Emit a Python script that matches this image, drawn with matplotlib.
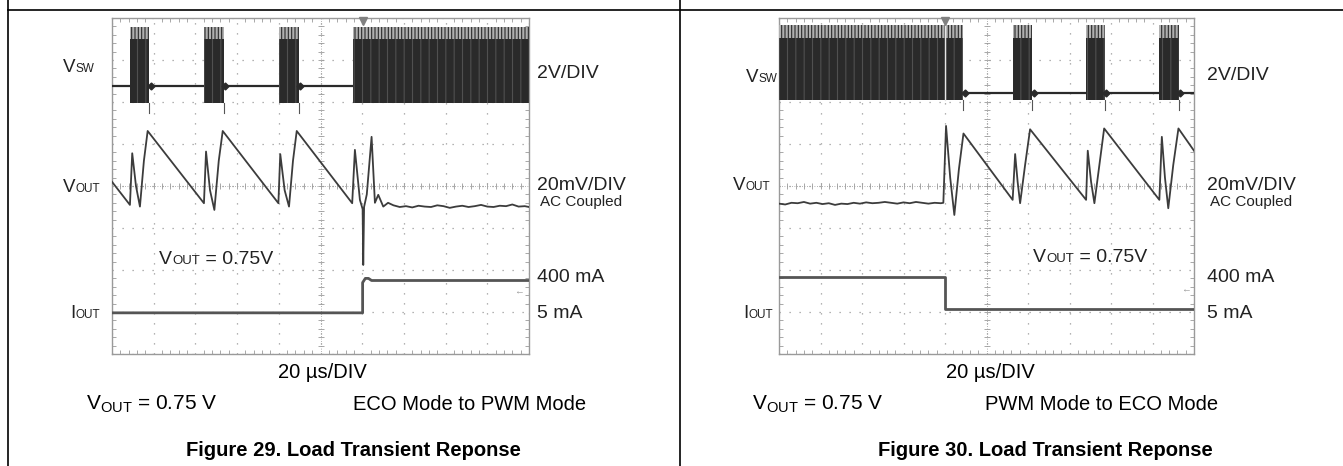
# Load transient response, ECO <-> PWM mode (two scope captures)
import numpy as np
import matplotlib
matplotlib.use('Agg')
from matplotlib import pyplot as plt
from matplotlib.lines import Line2D
from matplotlib.offsetbox import TextArea, HPacker, AnnotationBbox

plt.rcParams['font.family'] = ['Liberation Sans', 'DejaVu Sans']
plt.rcParams['mathtext.fontset'] = 'custom'
plt.rcParams['mathtext.rm'] = 'Liberation Sans'
plt.rcParams['mathtext.it'] = 'Liberation Sans'
plt.rcParams['hatch.linewidth'] = 0.8

W, H = 1343, 466

# time axis in us (20 us/div, 10 div), traces in screen divisions (0..8)

# ---- Figure 29 : ECO -> PWM
sw_bursts_29 = [(8.6, 17.9), (44.1, 53.7), (80.0, 89.8), (115.4, 200.0)]
sw_levels_29 = [6.37, 5.98, 7.79, 5.74]          # base, low, top, spike
vout_t_29 = [0, 8.6, 9.7, 11.5, 13.4, 15.3, 17.1,
             44.1, 45.1, 47.0, 49.1, 51.2, 53.1,
             79.8, 80.7, 82.8, 84.9, 86.8, 88.6,
             115.2, 116.5, 118.9, 120.2, 120.5, 120.9, 122.2, 124.5,
             126.1, 127.7, 130.1, 132.4,
             135, 138, 141, 144, 147, 150, 153, 156, 159, 162, 165, 168,
             171, 174, 177, 180, 183, 186, 189, 192, 195, 198, 200]
vout_v_29 = [4.10, 3.55, 4.78, 4.00, 3.51, 4.60, 5.31,
             3.59, 4.82, 3.90, 3.43, 4.60, 5.31,
             3.59, 4.76, 3.90, 3.51, 4.60, 5.31,
             3.59, 4.86, 3.67, 3.45, 2.12, 3.50, 3.80, 5.17,
             3.60, 3.79, 3.51, 3.60,
             3.54, 3.50, 3.52, 3.49, 3.53, 3.51, 3.50, 3.54, 3.52, 3.48, 3.51, 3.53,
             3.50, 3.52, 3.55, 3.51, 3.50, 3.53, 3.52, 3.56, 3.51, 3.52, 3.50]
iout_t_29 = [0, 120.2, 120.2, 121.5, 123.0, 124.5, 200]
iout_v_29 = [0.98, 0.98, 1.70, 1.80, 1.80, 1.75, 1.75]
trig_29 = 120.5

# ---- Figure 30 : PWM -> ECO
sw_bursts_30 = [(0.0, 88.9), (112.9, 122.1), (148.0, 157.1), (183.3, 192.8)]
sw_levels_30 = [6.21, 6.05, 7.83, 5.81]
vout_t_30 = [0, 3, 6, 9, 12, 15, 18, 21, 24, 27, 30, 33, 36, 39, 42, 45, 48,
             51, 54, 57, 60, 63, 66, 69, 72, 75, 78, 79.2,
             80.5, 82.5, 84.5, 86.7, 88.9,
             112.6, 113.8, 115.0, 116.2, 118.6, 121.0,
             148.0, 148.8, 150.4, 152.0, 154.4, 156.7,
             183.3, 184.5, 186.0, 187.6, 190.0, 192.5, 200]
vout_v_30 = [3.58, 3.56, 3.60, 3.59, 3.62, 3.58, 3.60, 3.57, 3.59, 3.55, 3.58,
             3.57, 3.60, 3.58, 3.61, 3.59, 3.60, 3.62, 3.60, 3.58, 3.61, 3.59,
             3.62, 3.60, 3.58, 3.60, 3.59, 3.60,
             5.43, 4.20, 3.31, 4.40, 5.25,
             3.67, 4.76, 4.10, 3.59, 4.50, 5.35,
             3.67, 4.84, 4.10, 3.59, 4.50, 5.37,
             3.67, 5.17, 4.20, 3.47, 4.50, 5.37, 4.84]
iout_t_30 = [0, 80.0, 80.0, 200]
iout_v_30 = [1.83, 1.83, 1.06, 1.06]
trig_30 = 80.0

fig = plt.figure(figsize=(W / 100, H / 100), dpi=100)

GRID = '#9a9a9a'
INK = '#2a2a2a'


def px_rect(x0, y0, x1, y1):
    return [x0 / W, (H - y1) / H, (x1 - x0) / W, (y1 - y0) / H]


def scope_axes(rect):
    ax = fig.add_axes(rect)
    ax.set_xlim(0, 200)
    ax.set_ylim(0, 8)
    ax.set_xticks(np.arange(0, 201, 20))
    ax.set_xticks(np.arange(0, 201, 4), minor=True)
    ax.set_yticks(np.arange(0, 9, 1))
    ax.set_yticks(np.arange(0, 8.01, 0.2), minor=True)
    ax.tick_params(which='both', direction='in', top=True, right=True,
                   labelbottom=False, labelleft=False, color=GRID)
    ax.tick_params(which='major', length=0)
    ax.tick_params(which='minor', length=3, width=0.6)
    ax.grid(True, which='major', ls=(0, (1, 7)), color=GRID, lw=0.9)
    for s in ax.spines.values():
        s.set_color(GRID)
        s.set_linewidth(1.0)
    # centre crosshair with sub-division ticks
    ax.axvline(100, color=GRID, lw=0.6, ls=(0, (1, 2)))
    ax.axhline(4, color=GRID, lw=0.6, ls=(0, (1, 2)))
    ax.plot(np.arange(0, 201, 4), np.full(51, 4.0), ls='none', marker='|',
            ms=4, mew=0.6, color=GRID)
    ax.plot(np.full(41, 100.0), np.arange(0, 8.01, 0.2), ls='none', marker='_',
            ms=4, mew=0.6, color=GRID)
    return ax


def draw_sw(ax, bursts, levels, trig):
    base, low, top, spike = levels
    ax.plot([0, 200], [base, base], color=INK, lw=1.6, zorder=3)
    for t0, t1 in bursts:
        ax.fill_between([t0, t1], [low, low], [top - 0.3, top - 0.3],
                        facecolor=INK, edgecolor='#505050', hatch='||', lw=0, zorder=4)
        ax.fill_between([t0, t1], [top - 0.3, top - 0.3], [top, top],
                        facecolor='#b0b0b0', edgecolor=INK, hatch='|||||', lw=0, zorder=4)
        if t1 < 199:
            ax.plot([t1, t1], [spike, low], color='#555555', lw=0.8, zorder=4)
            ax.plot(t1 + 0.6, base, marker='D', ms=3.5, color=INK, zorder=4)
    if trig < 100:
        ax.plot([trig, trig], [low, top], color='#e6e6e6', lw=1.0, zorder=5)
    ax.plot(trig, 7.93, marker='v', ms=6, color='#808080', clip_on=False, zorder=6)


def label(x, y, parts, color='#222222'):
    boxes = [TextArea(s, textprops=dict(size=sz, color=color)) for s, sz in parts]
    pack = HPacker(children=boxes, align='baseline', pad=0, sep=0)
    ab = AnnotationBbox(pack, (x, H - y), xycoords='figure pixels', frameon=False,
                        box_alignment=(0, 0.5), annotation_clip=False, zorder=10)
    fig.add_artist(ab)


def ftext(x, y, s, **kw):
    fig.text(x / W, 1 - y / H, s, va='center', **kw)


panels = [
    dict(rect=px_rect(112, 18, 529, 354), sw=(sw_bursts_29, sw_levels_29, trig_29),
         vout=(vout_t_29, vout_v_29), iout=(iout_t_29, iout_v_29), gnd=(195, 1.48)),
    dict(rect=px_rect(779, 18, 1194, 354), sw=(sw_bursts_30, sw_levels_30, trig_30),
         vout=(vout_t_30, vout_v_30), iout=(iout_t_30, iout_v_30), gnd=(196, 1.55)),
]

for p in panels:
    ax = scope_axes(p['rect'])
    draw_sw(ax, *p['sw'])
    ax.plot(*p['vout'], color='#3c3c3c', lw=1.3, zorder=5)
    ax.plot(*p['iout'], color='#555555', lw=2.0, zorder=5)
    ax.text(p['gnd'][0], p['gnd'][1], '\u2190', color='#999999', fontsize=7,
            ha='center', va='center', zorder=5)

# channel labels (left of / right of each capture)
LAB = 13.5
SUB = 8.5
for xr, y2v in [(537, 73), (1207, 76)]:
    label(xr, y2v, [('2V/DIV', 14)])
    label(xr, 186, [('20mV/DIV', 14)])
    ftext(xr + 3, 202, 'AC Coupled', fontsize=11, color='#222222', ha='left')
    label(xr, 278, [('400 mA', 14)])
    label(xr, 313, [('5 mA', 14)])
label(63, 68, [('V', LAB), ('SW', SUB)])
label(63, 187, [('V', LAB), ('OUT', SUB)])
label(70, 314, [('I', LAB), ('OUT', SUB)])
label(746, 78, [('V', LAB), ('SW', SUB)])
label(733, 185, [('V', LAB), ('OUT', SUB)])
label(743, 314, [('I', LAB), ('OUT', SUB)])
label(159, 259, [('V', 14), ('OUT', 9.5), (' = 0.75V', 14)])
label(1033, 257, [('V', 14), ('OUT', 9.5), (' = 0.75V', 14)])

# captions under the captures
captions = [
    (322, 86, 'ECO Mode to PWM Mode', 586, 'Figure 29. Load Transient Reponse', 353),
    (990, 752, 'PWM Mode to ECO Mode', 1218, 'Figure 30. Load Transient Reponse', 1045),
]
for xdiv, xv, mode, xm, title, xt in captions:
    ftext(xdiv, 372, '20 \u00b5s/DIV', fontsize=14.5, ha='center')
    ftext(xv, 404, r'V$_{\mathrm{OUT}}$ = 0.75 V', fontsize=15, ha='left')
    ftext(xm, 404, mode, fontsize=14.5, ha='right')
    ftext(xt, 450, title, fontsize=14.5, ha='center', fontweight='bold')

# table rules
for x in (8, 680):
    fig.add_artist(Line2D([x / W, x / W], [0, 1], color='black', lw=1.2,
                          transform=fig.transFigure))
fig.add_artist(Line2D([8 / W, 1], [1 - 10 / H, 1 - 10 / H], color='black', lw=1.2,
                      transform=fig.transFigure))

fig.savefig('out.png', dpi=100)
